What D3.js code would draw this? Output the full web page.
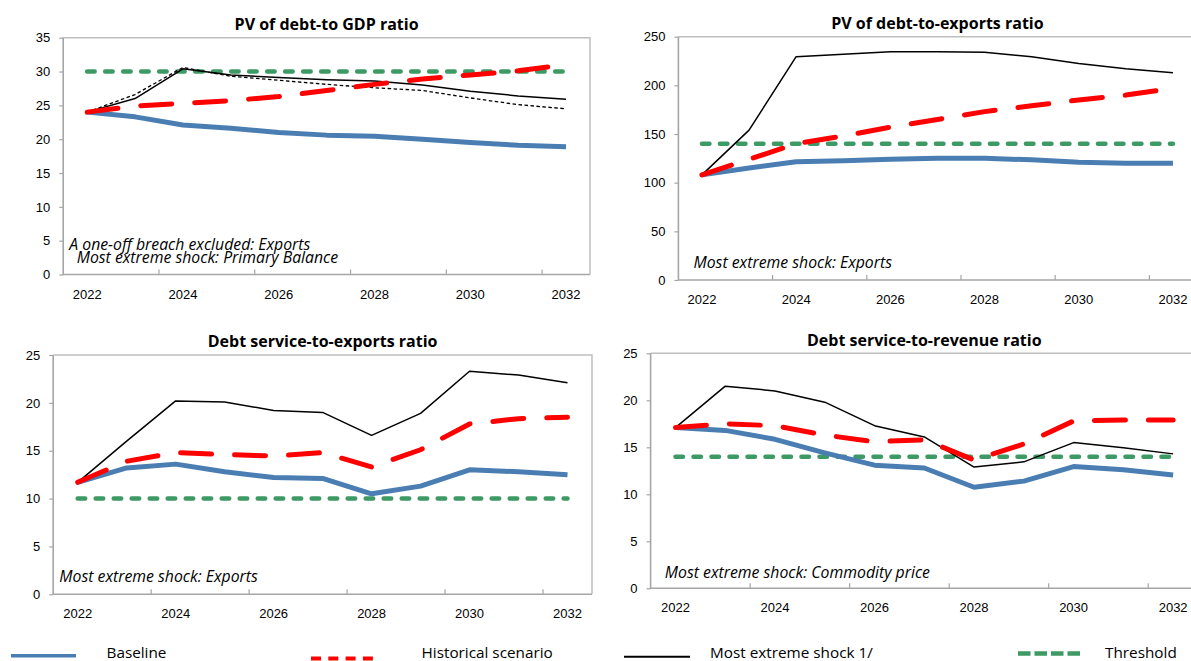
<!DOCTYPE html>
<html>
<head>
<meta charset="utf-8">
<script src="https://cdn.jsdelivr.net/npm/d3@7"></script>
<style>
  html, body { margin: 0; padding: 0; background: #ffffff; }
  svg { display: block; font-family: "Open Sans", "Noto Sans", sans-serif; }
</style>
</head>
<body>
<svg id="chart" width="1191" height="661"></svg>
<script>
// ---- Data -------------------------------------------------------------
const years = [2022, 2023, 2024, 2025, 2026, 2027, 2028, 2029, 2030, 2031, 2032];
const xTickYears = [2022, 2024, 2026, 2028, 2030, 2032];

// PV of debt-to-GDP ratio
const gdpBaseline   = [24.0, 23.3, 22.1, 21.6, 21.0, 20.6, 20.45, 20.0, 19.5, 19.1, 18.9];
const gdpHistorical = [24.0, 24.9, 25.3, 25.7, 26.3, 27.2, 28.1, 28.9, 29.5, 30.1, 31.0];
const gdpShock      = [24.0, 26.0, 30.4, 29.5, 29.1, 28.8, 28.6, 28.0, 27.1, 26.4, 25.9];
const gdpOneOff     = [24.0, 26.6, 30.6, 29.3, 28.7, 28.1, 27.6, 27.2, 26.1, 25.1, 24.5];
const gdpThreshold  = 30;

// PV of debt-to-exports ratio
const expBaseline   = [108, 115, 121.5, 122.5, 124, 125, 125, 123.5, 121, 120, 120];
const expHistorical = [108, 124, 140, 148, 157, 165, 173, 179, 185, 190, 197];
const expShock      = [108, 154, 229.5, 232, 234.5, 234.5, 234, 229.5, 222.5, 217, 213];
const expThreshold  = 140;

// Debt service-to-exports ratio
const dsExpBaseline   = [11.7, 13.2, 13.6, 12.8, 12.2, 12.1, 10.5, 11.3, 13.0, 12.8, 12.5];
const dsExpHistorical = [11.7, 13.9, 14.8, 14.6, 14.45, 14.8, 13.3, 15.1, 17.8, 18.35, 18.5];
const dsExpShock      = [11.7, 16.0, 20.2, 20.1, 19.2, 19.0, 16.6, 18.9, 23.3, 22.9, 22.1];
const dsExpThreshold  = 10;

// Debt service-to-revenue ratio
const dsRevBaseline   = [17.1, 16.8, 15.85, 14.4, 13.1, 12.8, 10.75, 11.4, 12.95, 12.6, 12.05];
const dsRevHistorical = [17.1, 17.5, 17.3, 16.3, 15.6, 15.8, 13.65, 15.35, 17.8, 17.9, 17.9];
const dsRevShock      = [17.1, 21.5, 21.0, 19.8, 17.3, 16.1, 12.9, 13.45, 15.5, 14.95, 14.3];
const dsRevThreshold  = 14;

const yTicksGdp     = [0, 5, 10, 15, 20, 25, 30, 35];
const yTicksExports = [0, 50, 100, 150, 200, 250];
const yTicksService = [0, 5, 10, 15, 20, 25];

const panelTitles = [
  "PV of debt-to GDP ratio",
  "PV of debt-to-exports ratio",
  "Debt service-to-exports ratio",
  "Debt service-to-revenue ratio"
];
const notesGdp     = ["A one-off breach excluded: Exports", "Most extreme shock: Primary Balance"];
const notesExports = ["Most extreme shock: Exports"];
const notesDsExp   = ["Most extreme shock: Exports"];
const notesDsRev   = ["Most extreme shock: Commodity price"];

const legendLabels = ["Baseline", "Historical scenario", "Most extreme shock 1/", "Threshold"];

// ---- Styles -----------------------------------------------------------
const BLUE = "#4a7eb3", RED = "#ff0000", GREEN = "#3d9a64", AXIS = "#a6a6a6";
const styles = {
  baseline:   { stroke: BLUE,  width: 5,   dash: null,        cap: "butt" },
  historical: { stroke: RED,   width: 5,   dash: "31,23",     cap: "round" },
  shock:      { stroke: "#000", width: 1.5, dash: null,       cap: "butt" },
  oneoff:     { stroke: "#000", width: 1.3, dash: "3.5,2.5",  cap: "butt" },
  threshold:  { stroke: GREEN, width: 4.5, dash: "7.5,10.5",  cap: "round" }
};

// ---- Panels -----------------------------------------------------------
const panels = [
  { title: panelTitles[0], yMax: 35, yTicks: yTicksGdp, threshold: gdpThreshold, notes: notesGdp,
    series: [["baseline", gdpBaseline], ["shock", gdpShock], ["oneoff", gdpOneOff], ["historical", gdpHistorical]],
    box: { left: 63.2, right: 590, top: 37.7, bottom: 274.5, titleY: 24.5 },
    notePos: [{ x: 69.3, y: 244.5 }, { x: 76.7, y: 257 }] },
  { title: panelTitles[1], yMax: 250, yTicks: yTicksExports, threshold: expThreshold, notes: notesExports,
    series: [["baseline", expBaseline], ["shock", expShock], ["historical", expHistorical]],
    box: { left: 678.4, right: 1196.5, top: 36.7, bottom: 280, titleY: 23 },
    notePos: [{ x: 693.5, y: 262.7 }] },
  { title: panelTitles[2], yMax: 25, yTicks: yTicksService, threshold: dsExpThreshold, notes: notesDsExp,
    series: [["baseline", dsExpBaseline], ["shock", dsExpShock], ["historical", dsExpHistorical]],
    box: { left: 53.2, right: 592, top: 355, bottom: 594.3, titleY: 341.7 },
    notePos: [{ x: 59.3, y: 576 }] },
  { title: panelTitles[3], yMax: 25, yTicks: yTicksService, threshold: dsRevThreshold, notes: notesDsRev,
    series: [["baseline", dsRevBaseline], ["shock", dsRevShock], ["historical", dsRevHistorical]],
    box: { left: 650.6, right: 1198, top: 353.3, bottom: 588.3, titleY: 340 },
    notePos: [{ x: 664.8, y: 572.7 }] }
];

const svg = d3.select("#chart");

function applyStyle(sel, s) {
  sel.attr("fill", "none")
     .attr("stroke", s.stroke)
     .attr("stroke-width", s.width)
     .attr("stroke-linecap", s.cap)
     .attr("stroke-linejoin", "round");
  if (s.dash) sel.attr("stroke-dasharray", s.dash);
  return sel;
}

panels.forEach(p => {
  const b = p.box;
  const g = svg.append("g");
  const x = d3.scaleBand().domain(years).range([b.left, b.right]).padding(0);
  const cx = d => x(d) + x.bandwidth() / 2;
  const y = d3.scaleLinear().domain([0, p.yMax]).range([b.bottom, b.top]);

  // title
  g.append("text")
    .attr("x", (b.left + b.right) / 2).attr("y", b.titleY).attr("dy", "0.35em")
    .attr("text-anchor", "middle").attr("font-weight", 700).attr("font-size", 16)
    .attr("fill", "#000").text(p.title);

  // plot frame (top and right)
  g.append("path")
    .attr("d", `M${b.left},${b.top}H${b.right}V${b.bottom}`)
    .attr("fill", "none").attr("stroke", "#bfbfbf").attr("stroke-width", 1.5);

  // y axis
  const yAxis = d3.axisLeft(y).tickValues(p.yTicks).tickSize(4).tickPadding(9);
  const ya = g.append("g").attr("transform", `translate(${b.left},0)`).call(yAxis);
  ya.select(".domain").remove();
  ya.selectAll(".tick line").attr("stroke", AXIS).attr("stroke-width", 1.2);
  ya.selectAll(".tick text").attr("font-size", 13).attr("fill", "#000").attr("font-family", null);

  // x axis labels every other year
  const xAxis = d3.axisBottom(x).tickValues(xTickYears).tickSize(0).tickPadding(0);
  const xa = g.append("g").attr("transform", `translate(0,${b.bottom})`).call(xAxis);
  xa.select(".domain").remove();
  xa.selectAll(".tick text").attr("y", 19.5).attr("dy", "0.35em")
    .attr("font-size", 13).attr("fill", "#000").attr("font-family", null);

  // inner tick marks on the category boundaries
  g.append("g").selectAll("line")
    .data(years.filter((d, i) => i > 0 && i % 2 === 0))
    .join("line")
    .attr("x1", d => x(d)).attr("x2", d => x(d))
    .attr("y1", b.bottom).attr("y2", b.bottom - 5)
    .attr("stroke", AXIS).attr("stroke-width", 1.2);

  // axis lines
  g.append("path")
    .attr("d", `M${b.left},${b.top}V${b.bottom}H${b.right}`)
    .attr("fill", "none").attr("stroke", AXIS).attr("stroke-width", 1.6);

  // threshold line
  applyStyle(g.append("line")
    .attr("x1", cx(years[0])).attr("x2", cx(years[years.length - 1]))
    .attr("y1", y(p.threshold)).attr("y2", y(p.threshold)), styles.threshold);

  // scenario lines
  const line = d3.line().x((d, i) => cx(years[i])).y(d => y(d));
  p.series.forEach(([key, values]) => {
    applyStyle(g.append("path").datum(values).attr("d", line), styles[key]);
  });

  // notes
  p.notes.forEach((t, i) => {
    g.append("text")
      .attr("x", p.notePos[i].x).attr("y", p.notePos[i].y).attr("dy", "0.35em")
      .attr("font-style", "italic").attr("font-size", 15.8).attr("fill", "#000")
      .text(t);
  });
});

// ---- Legend -----------------------------------------------------------
const legendItems = [
  { label: legendLabels[0], x0: 11,   x1: 76,   y: 655.8, stroke: BLUE,   width: 3.6, dash: null },
  { label: legendLabels[1], x0: 311,  x1: 373,  y: 658.5, stroke: RED,    width: 4,   dash: "10,7.3" },
  { label: legendLabels[2], x0: 624,  x1: 690,  y: 656.7, stroke: "#000", width: 2,   dash: null },
  { label: legendLabels[3], x0: 1018, x1: 1080, y: 653.5, stroke: GREEN,  width: 4.5, dash: "12.5,4" }
];
const textX = [106.5, 421.5, 710, 1105];
const legend = svg.append("g");
legendItems.forEach((it, i) => {
  const ln = legend.append("line")
    .attr("x1", it.x0).attr("x2", it.x1).attr("y1", it.y).attr("y2", it.y)
    .attr("stroke", it.stroke).attr("stroke-width", it.width);
  if (it.dash) ln.attr("stroke-dasharray", it.dash);
  legend.append("text")
    .attr("x", textX[i]).attr("y", 652.5).attr("dy", "0.35em")
    .attr("font-size", 15.3).attr("fill", "#000").text(it.label);
});
</script>
</body>
</html>
